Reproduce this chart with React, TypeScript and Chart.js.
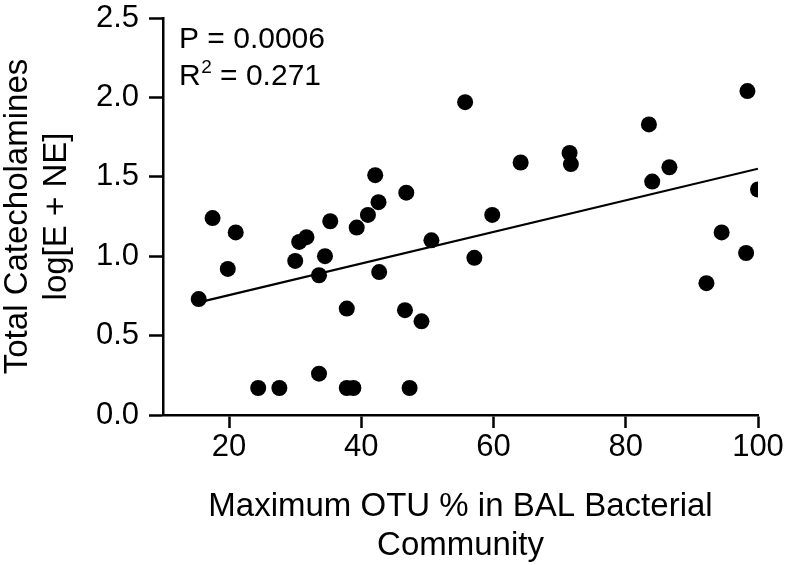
import React, { useEffect, useRef } from 'react';
import { Chart, registerables } from 'chart.js';

Chart.register(...registerables);

// ---- data ----
const xValues = [
  15.4, 17.5, 21.0, 19.8, 24.4, 27.6, 30.0, 30.6, 31.7, 34.5,
  33.6, 35.3, 33.6, 37.8, 37.8, 38.8, 39.3, 41.0, 42.6, 42.1,
  42.7, 46.8, 46.6, 49.1, 47.3, 50.6, 55.7, 57.1, 59.8, 64.1,
  71.5, 71.7, 83.5, 84.0, 86.6, 98.4, 100.0, 94.5, 98.2, 92.2,
];
const yValues = [
  0.73, 1.24, 1.15, 0.92, 0.17, 0.17, 0.97, 1.09, 1.12, 1.0,
  0.88, 1.22, 0.26, 0.67, 0.17, 0.17, 1.18, 1.26, 1.34, 1.51,
  0.9, 1.4, 0.66, 0.59, 0.17, 1.1, 1.97, 0.99, 1.26, 1.59,
  1.65, 1.58, 1.83, 1.47, 1.56, 2.04, 1.42, 1.15, 1.02, 0.83,
];
const fitSlope = 0.00995;
const fitIntercept = 0.556;

const xTicks = [20, 40, 60, 80, 100];
const yTicks = [0, 0.5, 1.0, 1.5, 2.0, 2.5];
const xTitleLines = ['Maximum OTU % in BAL Bacterial', 'Community'];
const yTitleLines = ['Total Catecholamines', 'log[E + NE]'];
const pText = 'P = 0.0006';
const rText = 'R';
const rSup = '2';
const rRest = ' = 0.271';

const FONT = '"Liberation Sans", Arial, Helvetica, sans-serif';

export default function App() {
  const ref = useRef<HTMLCanvasElement>(null);

  useEffect(() => {
    if (!ref.current) return;
    const points = xValues.map((x, i) => ({ x, y: yValues[i] }));
    const xmin = Math.min(...xValues);
    const xmax = Math.max(...xValues);
    const fit = [
      { x: xmin, y: fitIntercept + fitSlope * xmin },
      { x: xmax, y: fitIntercept + fitSlope * xmax },
    ];

    const annotation = {
      id: 'annot',
      afterDraw(chart: any) {
        const ctx = chart.ctx;
        const left = chart.chartArea.left;
        const top = chart.chartArea.top;
        ctx.save();
        ctx.fillStyle = '#000';
        ctx.textBaseline = 'alphabetic';
        ctx.textAlign = 'left';
        ctx.font = `30px ${FONT}`;
        const x0 = left + 16;
        ctx.fillText(pText, x0, top + 30);
        ctx.fillText(rText, x0, top + 67);
        const w1 = ctx.measureText(rText).width;
        ctx.font = `19px ${FONT}`;
        ctx.fillText(rSup, x0 + w1 + 0.5, top + 55);
        const w2 = ctx.measureText(rSup).width;
        ctx.font = `30px ${FONT}`;
        ctx.fillText(rRest, x0 + w1 + 0.5 + w2, top + 67);
        ctx.restore();
      },
    };

    const axisCommon = {
      border: { display: true, color: '#000', width: 2.5 },
    };

    const chart = new Chart(ref.current, {
      type: 'scatter',
      data: {
        datasets: [
          {
            data: fit,
            showLine: true,
            borderColor: '#000',
            borderWidth: 2.2,
            pointRadius: 0,
            pointHoverRadius: 0,
            fill: false,
            order: 1,
          } as any,
          {
            data: points,
            backgroundColor: '#000',
            borderColor: '#000',
            borderWidth: 0,
            pointRadius: 8,
            pointHoverRadius: 8,
            order: 0,
          },
        ],
      },
      options: {
        animation: false,
        responsive: false,
        events: [],
        layout: { padding: { top: 18, right: 30, left: 0, bottom: 0 } },
        plugins: {
          legend: { display: false },
          tooltip: { enabled: false },
        },
        scales: {
          x: {
            type: 'linear',
            min: 10,
            max: 100,
            ...axisCommon,
            afterBuildTicks(s: any) {
              s.ticks = xTicks.map((v) => ({ value: v }));
            },
            afterFit(s: any) {
              s.height = 150;
              s.paddingLeft = 0;
              s.paddingRight = 0;
            },
            grid: {
              display: true,
              drawOnChartArea: false,
              drawTicks: true,
              tickLength: 13,
              tickWidth: 2.5,
              tickColor: '#000',
            },
            ticks: {
              color: '#000',
              font: { family: FONT, size: 31, lineHeight: 1.1 },
              padding: 2,
              maxRotation: 0,
              autoSkip: false,
              callback: (v: any) => String(v),
            },
            title: {
              display: true,
              text: xTitleLines,
              color: '#000',
              font: { family: FONT, size: 33, lineHeight: 1.18 },
              padding: { top: 0, bottom: 0 },
            },
          },
          y: {
            type: 'linear',
            min: 0,
            max: 2.5,
            ...axisCommon,
            afterBuildTicks(s: any) {
              s.ticks = yTicks.map((v) => ({ value: v }));
            },
            afterFit(s: any) {
              s.width = 163;
              s.paddingTop = 0;
              s.paddingBottom = 0;
            },
            grid: {
              display: true,
              drawOnChartArea: false,
              drawTicks: true,
              tickLength: 14,
              tickWidth: 2.5,
              tickColor: '#000',
            },
            ticks: {
              color: '#000',
              font: { family: FONT, size: 31, lineHeight: 1.1 },
              padding: 10,
              autoSkip: false,
              callback: (v: any) => Number(v).toFixed(1),
            },
            title: {
              display: true,
              text: yTitleLines,
              color: '#000',
              font: { family: FONT, size: 33, lineHeight: 1.18 },
              padding: { top: -2, bottom: 0 },
            },
          },
        },
      },
      plugins: [annotation],
    } as any);

    return () => chart.destroy();
  }, []);

  return (
    <div style={{ position: 'absolute', left: 0, top: 0, width: 788, height: 565, background: '#fff' }}>
      <canvas ref={ref} width={788} height={565} style={{ display: 'block' }} />
    </div>
  );
}
